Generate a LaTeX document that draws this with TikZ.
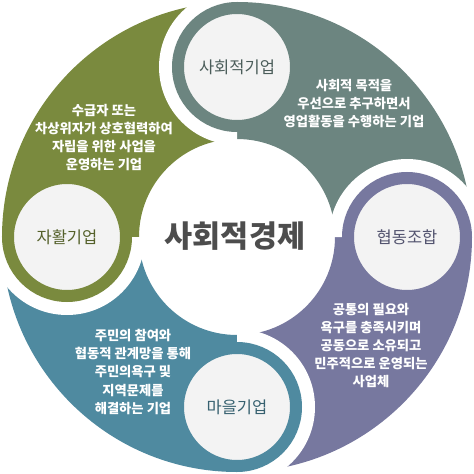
\documentclass[tikz,border=0pt]{standalone}
\usepackage{fontspec}
\setmainfont{Noto Sans CJK KR}
\usetikzlibrary{positioning}
\definecolor{jahwalgreen}{HTML}{7A8A3E}
\definecolor{sahoeteal}{HTML}{6C8580}
\definecolor{coopurple}{HTML}{77789F}
\definecolor{maeulblue}{HTML}{4F8AA0}
\definecolor{badgefill}{HTML}{F3F3F3}
\definecolor{titlegray}{HTML}{4D4D4D}

\begin{document}
\begin{tikzpicture}[x=1pt, y=1pt,
                seg/.style={fill=#1},
                gapfill/.style={fill=white},
                badge/.style={circle, draw=#1, line width=12pt, fill=badgefill, minimum size=118pt, inner sep=0pt, text=#1!70!black, font=\fontsize{16.5}{18}\selectfont},
                desc/.style={text=white, align=center, font=\bfseries\fontsize{13.3}{18.2}\selectfont}
            ]
                \useasboundingbox (-237,-237) rectangle (237,237);

                % four quarter rings
                \fill[seg=jahwalgreen] (180:98) arc[start angle=180, end angle=90, radius=98] -- (90:235) arc[start angle=90, end angle=180, radius=235] -- cycle;
                \fill[seg=sahoeteal] (90:98) arc[start angle=90, end angle=0, radius=98] -- (0:235) arc[start angle=0, end angle=90, radius=235] -- cycle;
                \fill[seg=coopurple] (0:98) arc[start angle=0, end angle=-90, radius=98] -- (-90:235) arc[start angle=-90, end angle=0, radius=235] -- cycle;
                \fill[seg=maeulblue] (-90:98) arc[start angle=-90, end angle=-180, radius=98] -- (-180:235) arc[start angle=-180, end angle=-90, radius=235] -- cycle;

                % white gaps that cut the tips
                \begin{scope}
                    \clip (0,0) -- (90:260) arc[start angle=90, end angle=180, radius=260] -- cycle;
                    \fill[gapfill] (90:170) circle[radius=78];
                \end{scope}
                \begin{scope}
                    \clip (0,0) -- (0:260) arc[start angle=0, end angle=90, radius=260] -- cycle;
                    \fill[gapfill] (0:170) circle[radius=78];
                \end{scope}
                \begin{scope}
                    \clip (0,0) -- (-90:260) arc[start angle=-90, end angle=0, radius=260] -- cycle;
                    \fill[gapfill] (-90:170) circle[radius=78];
                \end{scope}
                \begin{scope}
                    \clip (0,0) -- (180:260) arc[start angle=180, end angle=270, radius=260] -- cycle;
                    \fill[gapfill] (180:170) circle[radius=78];
                \end{scope}

                \node[badge=jahwalgreen] (jahwal) at (180:170) {자활기업};
                \node[badge=sahoeteal] (sahoe) at (90:170) {사회적기업};
                \node[badge=coopurple] (coop) at (0:170) {협동조합};
                \node[badge=maeulblue] (maeul) at (-90:170) {마을기업};

                \node[text=titlegray, font=\bfseries\fontsize{30.5}{34}\selectfont] (title) at (-2,1) {사회적경제};

                \node[desc] (jahwal-desc) at (-133,99.5) {수급자 또는\\차상위자가 상호협력하여\\자립을 위한 사업을\\운영하는 기업};
                \node[desc] (sahoe-desc) at (117,133.5) {사회적 목적을\\우선으로 추구하면서\\영업활동을 수행하는 기업};
                \node[desc] (coop-desc) at (134,-108.5) {공통의 필요와\\욕구를 충족시키며\\공동으로 소유되고\\민주적으로 운영되는\\사업체};
                \node[desc] (maeul-desc) at (-104,-135) {주민의 참여와\\협동적 관계망을 통해\\주민의욕구 및\\지역문제를\\해결하는 기업};
            \end{tikzpicture}
\end{document}
